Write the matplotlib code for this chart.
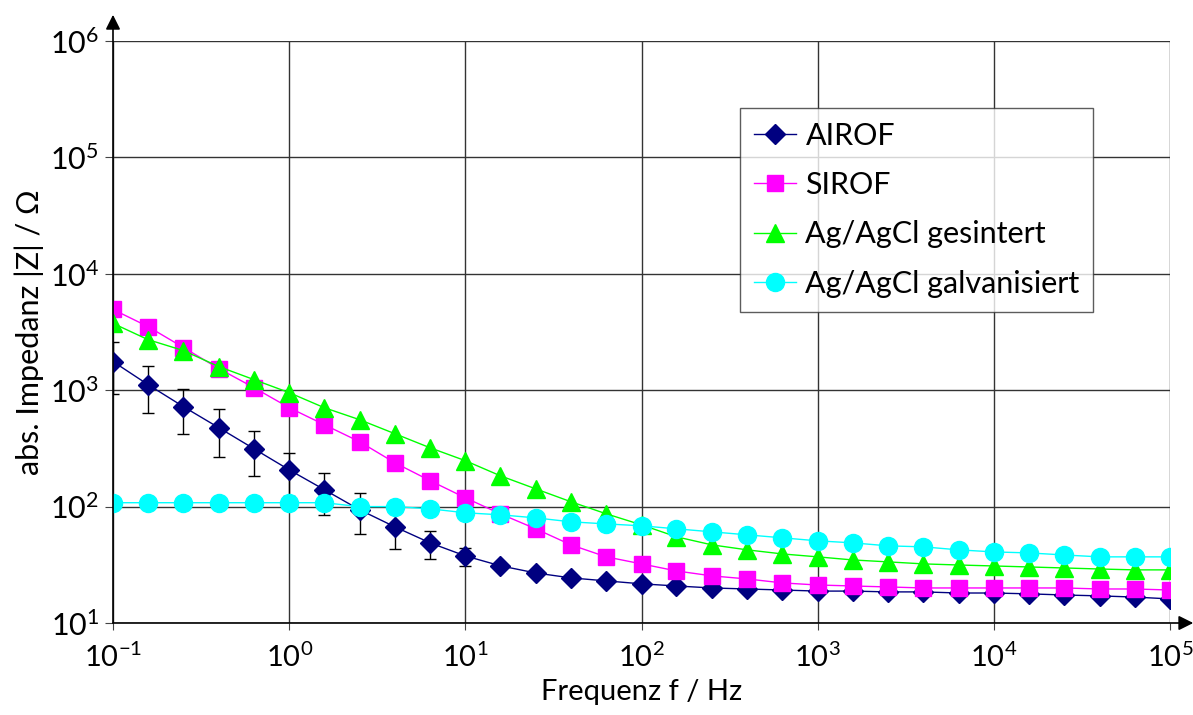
import numpy as np
import matplotlib
matplotlib.use("Agg")
import matplotlib.pyplot as plt

plt.rcParams["font.family"] = ["Lato", "DejaVu Sans"]
plt.rcParams["mathtext.default"] = "regular"

# Frequenzpunkte (5 pro Dekade)
freq = [0.1, 0.158, 0.251, 0.398, 0.631,
        1, 1.58, 2.51, 3.98, 6.31,
        10, 15.8, 25.1, 39.8, 63.1,
        100, 158, 251, 398, 631,
        1000, 1585, 2512, 3981, 6310,
        1e4, 1.585e4, 2.512e4, 3.981e4, 6.31e4,
        1e5]

airof = [1763, 1117, 722, 477, 314,
         207, 140, 94, 67, 48.8,
         37.7, 31, 26.9, 24.4, 23,
         21.7, 20.8, 20, 19.6, 19.2,
         18.8, 18.8, 18.5, 18.5, 18.1,
         18.1, 17.8, 17.4, 17.1, 16.7,
         16.1]
airof_err = [840, 485, 305, 210, 132,
             83, 56, 36, 24, 13,
             6.6, 0, 0, 0, 0,
             0, 0, 0, 0, 0,
             0, 0, 0, 0, 0,
             0, 0, 0, 0, 0,
             0]

sirof = [4940, 3520, 2327, 1536, 1052,
         708, 506, 361, 238, 167,
         119, 86.7, 64.4, 46.9, 37,
         32.2, 28, 25.4, 23.9, 22.1,
         21.2, 20.8, 20.4, 20, 20,
         20, 20, 20, 19.6, 19.6,
         19.2]

agcl_sint = [3750, 2720, 2190, 1597, 1233,
             953, 708, 558, 423, 320,
             248, 184, 142, 110, 86.7,
             69.7, 55, 46.9, 42.5, 39.2,
             37, 34.8, 33.5, 32.2, 31.5,
             30.9, 30.3, 29.7, 29.1, 28.6,
             28.6]

agcl_galv = [108, 108, 108, 108, 108,
             108, 108, 100, 100, 95.7,
             88.5, 85, 80, 74, 71,
             68.4, 64.4, 60.7, 57.2, 53.9,
             50.8, 48.8, 46, 45.1, 42.5,
             40.8, 40, 38.4, 37, 37,
             37]

xticks = [1e-1, 1e0, 1e1, 1e2, 1e3, 1e4, 1e5]
xticklabels = [r"$10^{-1}$", r"$10^{0}$", r"$10^{1}$", r"$10^{2}$",
               r"$10^{3}$", r"$10^{4}$", r"$10^{5}$"]
yticks = [1e1, 1e2, 1e3, 1e4, 1e5, 1e6]
yticklabels = [r"$10^{1}$", r"$10^{2}$", r"$10^{3}$", r"$10^{4}$",
               r"$10^{5}$", r"$10^{6}$"]

fig = plt.figure(figsize=(11.93, 7.15), dpi=100)
ax = fig.add_axes([113 / 1193, 1 - 623 / 715, (1170 - 113) / 1193, (623 - 41) / 715])

# Fehlerbalken AIROF
ax.errorbar(freq, airof, yerr=airof_err, fmt="none", ecolor="black",
            elinewidth=1, capsize=4)
ax.plot(freq, airof, color="#000080", marker="D", ms=10, lw=1, label="AIROF")
ax.plot(freq, sirof, color="#ff00ff", marker="s", ms=12, lw=1, label="SIROF")
ax.plot(freq, agcl_sint, color="#00ff00", marker="^", ms=13, lw=1,
        label="Ag/AgCl gesintert")
ax.plot(freq, agcl_galv, color="#00ffff", marker="o", ms=13, lw=1,
        label="Ag/AgCl galvanisiert")

ax.set_xscale("log")
ax.set_yscale("log")
ax.set_xlim(1e-1, 1e5)
ax.set_ylim(1e1, 1e6)
ax.set_xticks(xticks)
ax.set_xticklabels(xticklabels, fontsize=21)
ax.set_yticks(yticks)
ax.set_yticklabels(yticklabels, fontsize=22)
ax.minorticks_off()
ax.tick_params(axis="x", length=5, color="#444444", labelcolor="black", pad=9)
ax.tick_params(axis="y", length=6, color="#444444", labelcolor="black", pad=4)
ax.grid(True, color="#333333", lw=1)

for s in ["top", "right", "left", "bottom"]:
    ax.spines[s].set_visible(False)

# Achsen mit Pfeilen
ax.annotate("", xy=(0, 1.045), xytext=(0, 0), xycoords="axes fraction",
            arrowprops=dict(arrowstyle="-|>", color="black", lw=1.2,
                            mutation_scale=22, shrinkA=0, shrinkB=0))
ax.annotate("", xy=(1.022, 0), xytext=(0, 0), xycoords="axes fraction",
            arrowprops=dict(arrowstyle="-|>", color="black", lw=1.2,
                            mutation_scale=22, shrinkA=0, shrinkB=0))

ax.set_xlabel("Frequenz f / Hz", fontsize=21, labelpad=5)
ax.set_ylabel("abs. Impedanz |Z| / Ω", fontsize=22, labelpad=4)

leg = ax.legend(loc="upper left", bbox_to_anchor=(0.593, 0.885), fontsize=22,
                frameon=True, fancybox=False, edgecolor="#333333",
                handlelength=1.4, handletextpad=0.3, borderpad=0.45,
                labelspacing=0.7, borderaxespad=0)
leg.get_frame().set_linewidth(1)

fig.savefig("out.png", dpi=100)
